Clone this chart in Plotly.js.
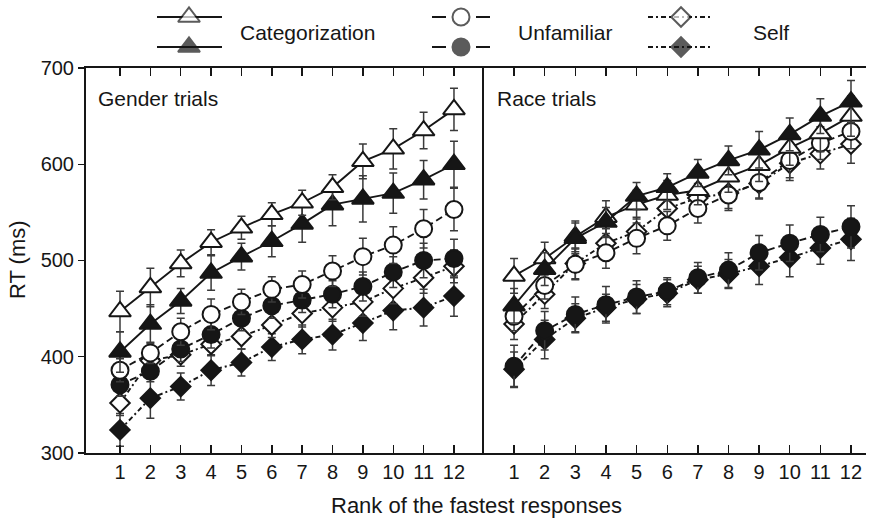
<!DOCTYPE html>
<html><head><meta charset="utf-8">
<script src="https://cdn.plot.ly/plotly-3.0.1.min.js"></script>
<style>html,body{margin:0;padding:0;background:#fff}#c{width:872px;height:521px}</style>
</head><body><div id="c"></div>
<script>
const ranks = [1,2,3,4,5,6,7,8,9,10,11,12];
const tickLabels = ['1','2','3','4','5','6','7','8','9','10','11','12'];
const yTicks = [300,400,500,600,700];

// Gender trials
const catOpenG  = [447,472,497,519,534,548,560,576,603,616,635,657];
const catFillG  = [405,434,458,487,504,520,538,558,564,570,584,600];
const unfOpenG  = [386,404,426,444,457,470,475,489,504,516,533,553];
const unfFillG  = [371,385,408,423,440,453,459,465,473,488,500,502];
const selfOpenG = [352,396,402,413,421,433,445,451,457,471,482,494];
const selfFillG = [324,357,369,386,394,410,418,423,435,448,451,463];
const catOpenGE  = [21,20,14,13,12,12,13,13,18,21,19,22];
const catFillGE  = [21,20,13,18,14,16,19,22,24,21,20,24];
const unfOpenGE  = [12,11,14,16,13,13,14,16,19,19,20,22];
const unfFillGE  = [12,11,13,14,13,13,13,14,15,16,18,20];
const selfOpenGE = [13,12,12,12,13,13,14,14,15,16,16,17];
const selfFillGE = [17,21,14,16,14,14,15,16,18,20,19,21];

// Race trials
const catOpenR  = [484,502,525,545,558,568,573,587,599,617,632,650];
const catFillR  = [453,491,523,540,567,576,591,604,615,631,650,665];
const unfOpenR  = [442,474,496,508,523,536,554,568,581,604,622,634];
const unfFillR  = [390,427,444,454,462,468,482,490,508,518,527,535];
const selfOpenR = [434,465,497,518,530,554,565,570,580,601,611,621];
const selfFillR = [387,418,440,451,460,466,480,486,494,503,513,522];
const catOpenRE  = [18,17,16,17,15,15,15,16,17,18,19,21];
const catFillRE  = [18,17,16,15,14,14,14,15,19,17,18,22];
const unfOpenRE  = [15,14,16,16,16,15,15,16,16,18,17,18];
const unfFillRE  = [22,20,18,19,17,14,16,18,18,19,18,22];
const selfOpenRE = [16,15,16,15,15,15,15,16,16,18,16,20];
const selfFillRE = [18,20,15,14,15,14,14,15,19,20,17,22];

const seriesNames = ['Categorization','Unfamiliar','Self'];

const INK = '#161616';
const FONT = 'Liberation Sans, Arial, sans-serif';
const styles = {
  cat:  {dash:'solid', sym:'triangle-up', size:19},
  unf:  {dash:'7px,4px', sym:'circle', size:17},
  self: {dash:'5px,3px,2px,3px', sym:'diamond', size:15}
};

function tr(y, e, st, filled, xa, ya, name){
  return {
    x: ranks, y: y, xaxis: xa, yaxis: ya, name: name, type:'scatter', mode:'lines+markers',
    showlegend:false, hoverinfo:'skip',
    line:{color:INK, width:1.9, dash:st.dash},
    marker:{symbol:st.sym, size:st.size, color: filled? INK : '#ffffff', line:{color:INK, width:2}},
    error_y:{type:'data', array:e, visible:true, color:'#3a3a3a', thickness:1.5, width:4}
  };
}

const data = [
  tr(selfFillG, selfFillGE, styles.self, true, 'x','y', seriesNames[2]),
  tr(selfOpenG, selfOpenGE, styles.self, false,'x','y', seriesNames[2]),
  tr(unfFillG, unfFillGE, styles.unf, true, 'x','y', seriesNames[1]),
  tr(unfOpenG, unfOpenGE, styles.unf, false,'x','y', seriesNames[1]),
  tr(catFillG, catFillGE, styles.cat, true, 'x','y', seriesNames[0]),
  tr(catOpenG, catOpenGE, styles.cat, false,'x','y', seriesNames[0]),
  tr(selfFillR, selfFillRE, styles.self, true, 'x2','y2', seriesNames[2]),
  tr(selfOpenR, selfOpenRE, styles.self, false,'x2','y2', seriesNames[2]),
  tr(unfFillR, unfFillRE, styles.unf, true, 'x2','y2', seriesNames[1]),
  tr(unfOpenR, unfOpenRE, styles.unf, false,'x2','y2', seriesNames[1]),
  tr(catOpenR, catOpenRE, styles.cat, false,'x2','y2', seriesNames[0]),
  tr(catFillR, catFillRE, styles.cat, true, 'x2','y2', seriesNames[0])
];

// Legend samples (layout decoration, drawn on a hidden pixel-scaled axis)
function legSample(x0, x1, xm, yrow, st, filled){
  return {
    x:[x0, xm, x1], y:[yrow, yrow, yrow], xaxis:'x3', yaxis:'y3', type:'scatter',
    mode:'lines+markers', showlegend:false, hoverinfo:'skip',
    line:{color:INK, width:2, dash:st.dash},
    marker:{symbol:st.sym, size:[0, st.size, 0], color: filled? INK:'#ffffff', line:{color:INK, width:[0,2,0]}}
  };
}
const legRows = [17, 47];
data.push(legSample(157, 222, 189, legRows[0], styles.cat, false));
data.push(legSample(157, 222, 189, legRows[1], styles.cat, true));
data.push(legSample(432, 490, 461, legRows[0], {dash:'14px,30px', sym:'circle', size:17}, false));
data.push(legSample(432, 490, 461, legRows[1], {dash:'14px,30px', sym:'circle', size:17}, true));
data.push(legSample(648, 712, 681, legRows[0], styles.self, false));
data.push(legSample(648, 712, 681, legRows[1], styles.self, true));

const xCommon = {
  tickvals: ranks, ticktext: tickLabels, ticks:'inside', ticklen:8, tickwidth:1.4, tickcolor:INK,
  showline:true, linewidth:2, linecolor:INK, mirror:'ticks', showgrid:false, zeroline:false,
  tickfont:{family:FONT, size:20, color:INK}, fixedrange:true
};
const yDom = [0, 0.8594];
const layout = {
  width:872, height:521,
  margin:{l:86, r:6, t:5, b:68},
  paper_bgcolor:'#fff', plot_bgcolor:'rgba(0,0,0,0)',
  showlegend:false,
  xaxis: Object.assign({}, xCommon, {domain:[0, 0.5103], range:[-0.12, 12.99], anchor:'y'}),
  xaxis2: Object.assign({}, xCommon, {domain:[0.5103, 1], range:[0.02, 12.49], anchor:'y2'}),
  yaxis: {domain:yDom, range:[300,700], tickvals:yTicks, ticks:'outside', ticklen:6, tickwidth:1.4, tickcolor:INK,
          showline:true, linewidth:2, linecolor:INK, showgrid:false, zeroline:false, anchor:'x',
          tickfont:{family:FONT, size:20, color:INK}},
  yaxis2: {domain:yDom, range:[300,700], showticklabels:false, ticks:'', showline:true, linewidth:2, linecolor:INK,
           showgrid:false, zeroline:false, anchor:'x2'},
  xaxis3: {domain:[0,1], range:[86,866], visible:false, anchor:'y3', fixedrange:true},
  yaxis3: {domain:[0.88,1], range:[58.76,5], visible:false, anchor:'x3', fixedrange:true},
  annotations:[
    {xref:'x3', yref:'y3', x:238, y:32, text:seriesNames[0], showarrow:false, xanchor:'left', yanchor:'middle', font:{family:FONT, size:21, color:INK}},
    {xref:'x3', yref:'y3', x:516, y:32, text:seriesNames[1], showarrow:false, xanchor:'left', yanchor:'middle', font:{family:FONT, size:21, color:INK}},
    {xref:'x3', yref:'y3', x:751, y:32, text:seriesNames[2], showarrow:false, xanchor:'left', yanchor:'middle', font:{family:FONT, size:21, color:INK}},
    {xref:'paper', yref:'paper', x:0.0128, y:0.792, text:'Gender trials', showarrow:false, xanchor:'left', yanchor:'middle', font:{family:FONT, size:21, color:INK}},
    {xref:'paper', yref:'paper', x:0.524, y:0.792, text:'Race trials', showarrow:false, xanchor:'left', yanchor:'middle', font:{family:FONT, size:21, color:INK}},
    {xref:'paper', yref:'paper', x:-0.087, y:0.431, text:'RT (ms)', textangle:-90, showarrow:false, xanchor:'center', yanchor:'middle', font:{family:FONT, size:22, color:INK}},
    {xref:'paper', yref:'paper', x:0.5, y:-0.118, text:'Rank of the fastest responses', showarrow:false, xanchor:'center', yanchor:'middle', font:{family:FONT, size:22, color:INK}}
  ]
};
Plotly.newPlot('c', data, layout, {staticPlot:true, displayModeBar:false});
</script></body></html>
